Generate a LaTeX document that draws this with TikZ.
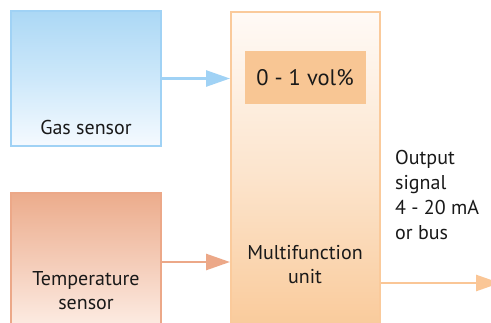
\documentclass[tikz,border=0pt]{standalone}
\usepackage{fontspec}
\setmainfont{PT Sans}
\usetikzlibrary{arrows.meta}
\definecolor{gasborder}{RGB}{160,210,245}
\definecolor{gastop}{RGB}{172,216,245}
\definecolor{gasmid}{RGB}{205,232,250}
\definecolor{gasbot}{RGB}{245,250,255}
\definecolor{tempborder}{RGB}{236,168,136}
\definecolor{temptop}{RGB}{236,172,140}
\definecolor{tempmid}{RGB}{244,204,184}
\definecolor{tempbot}{RGB}{253,238,230}
\definecolor{mfuborder}{RGB}{250,202,155}
\definecolor{mfutop}{RGB}{255,250,246}
\definecolor{mfumid}{RGB}{252,228,204}
\definecolor{mfubot}{RGB}{249,200,150}
\definecolor{innerfill}{RGB}{248,198,148}
\definecolor{outarrow}{RGB}{250,198,150}
\tikzset{
  box/.style={rectangle, inner sep=0pt, line width=2pt},
  lbl/.style={inner sep=0pt, font=\fontsize{20}{24}\selectfont, text=black!90, align=center},
  conn/.style={line width=2.6pt, -{Triangle[length=24pt,width=16pt]}},
}
\begin{document}
\begin{tikzpicture}[x=1pt,y=-1pt]
\useasboundingbox (0,0) rectangle (491,322);
\clip (0,0) rectangle (491,322);
\fill[white] (0,0) rectangle (491,322);
% gas sensor
\node[box, draw=gasborder, top color=gastop, bottom color=gasbot, middle color=gasmid,
      minimum width=150pt, minimum height=135pt] (gas) at (86,78.5) {};
\node[lbl] (gaslbl) at (86,127) {Gas sensor};
% temperature sensor
\node[box, draw=tempborder, top color=temptop, bottom color=tempbot, middle color=tempmid,
      minimum width=150pt, minimum height=138pt] (temp) at (86,262) {};
\node[lbl] (templbl) at (86,291) {Temperature\\sensor};
% multifunction unit
\node[box, draw=mfuborder, top color=mfutop, bottom color=mfubot, middle color=mfumid,
      minimum width=149pt, minimum height=330pt] (mfu) at (305.5,177) {};
\node[rectangle, fill=innerfill, minimum width=121pt, minimum height=53pt, inner sep=0pt] (range) at (305.5,77.5) {};
\node[lbl, font=\fontsize{22.5}{26}\selectfont] (rangelbl) at (305,77.5) {0 - 1 vol\%};
\node[lbl] (mfulbl) at (305,265) {Multifunction\\unit};
% output
\node[lbl, align=left, anchor=north west, font=\fontsize{20}{25}\selectfont] (outlbl) at (395,150) {Output\\signal\\4 - 20 mA\\or bus};
\coordinate (outend) at (500,283);
% connectors
\draw[conn, draw=gasborder, fill=gasborder] (gas.east) -- (gas.east -| mfu.west);
\draw[conn, draw=tempborder, fill=tempborder] (temp.east) -- (temp.east -| mfu.west);
\draw[conn, draw=outarrow, fill=outarrow] (outend -| mfu.east) -- (outend);
\end{tikzpicture}
\end{document}
